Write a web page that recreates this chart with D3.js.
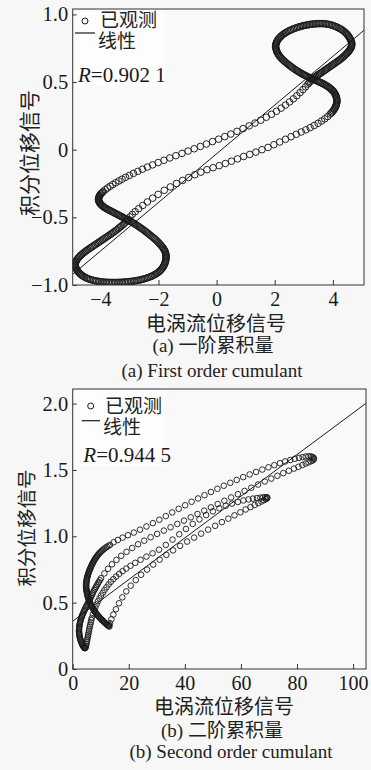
<!DOCTYPE html>
<html>
<head>
<meta charset="utf-8">
<script src="https://cdn.jsdelivr.net/npm/d3@7"></script>
<style>
  html, body { margin: 0; padding: 0; background: #f7f7f7; }
  svg { display: block; }
</style>
</head>
<body>
<svg id="chart" width="371" height="770"></svg>
<script>
// First-order cumulant: integrated displacement vs eddy-current displacement
const firstOrderPts = [
  [-3.05,-0.515],[-2.98,-0.497],[-2.90,-0.478],[-2.80,-0.458],[-2.68,-0.436],[-2.54,-0.412],[-2.38,-0.386],[-2.20,-0.358],[-2.01,-0.33],
  [-1.80,-0.30],[-1.59,-0.275],[-1.38,-0.25],[-1.17,-0.227],[-0.96,-0.205],[-0.75,-0.185],[-0.54,-0.166],[-0.33,-0.148],[-0.12,-0.133],[0.09,-0.118],
  [0.30,-0.102],[0.51,-0.085],[0.72,-0.068],[0.93,-0.05],[1.14,-0.035],[1.35,-0.018],[1.56,0.0],[1.77,0.017],[1.97,0.037],[2.17,0.057],
  [2.37,0.077],[2.56,0.096],[2.74,0.114],[2.91,0.131],[3.07,0.147],[3.22,0.163],[3.36,0.179],[3.49,0.195],[3.61,0.212],[3.72,0.228],
  [3.82,0.245],[3.91,0.264],
  [3.95,0.272],[3.98,0.28],[4.01,0.288],[4.04,0.296],[4.06,0.304],[4.08,0.312],[4.10,0.320],[4.11,0.328],[4.12,0.336],[4.13,0.345],
  [4.14,0.353],[4.14,0.362],[4.14,0.370],[4.13,0.378],[4.12,0.386],[4.11,0.394],[4.10,0.402],[4.08,0.41],[4.06,0.417],[4.04,0.424],
  [4.02,0.431],[3.99,0.437],[3.96,0.443],[3.93,0.449],[3.90,0.455],[3.87,0.46],[3.84,0.465],[3.80,0.47],[3.77,0.475],[3.73,0.479],
  [3.70,0.484],[3.66,0.488],[3.62,0.492],[3.58,0.496],[3.54,0.50],[3.50,0.504],[3.46,0.508],[3.42,0.512],[3.38,0.516],[3.34,0.519],
  [3.30,0.523],[3.26,0.527],[3.22,0.531],[3.18,0.535],[3.14,0.539],[3.10,0.543],[3.06,0.548],[3.02,0.552],[2.98,0.556],[2.94,0.561],
  [2.90,0.566],[2.86,0.571],[2.82,0.576],[2.78,0.582],[2.74,0.587],[2.70,0.593],[2.66,0.599],[2.62,0.605],[2.58,0.611],[2.54,0.618],
  [2.50,0.624],[2.46,0.631],[2.42,0.638],[2.38,0.645],[2.34,0.652],[2.31,0.659],[2.27,0.666],[2.24,0.673],[2.21,0.68],[2.18,0.688],
  [2.15,0.695],[2.13,0.703],[2.11,0.71],[2.09,0.718],[2.07,0.725],[2.06,0.733],[2.05,0.741],[2.04,0.749],[2.03,0.757],[2.03,0.765],
  [2.03,0.772],[2.04,0.78],[2.05,0.787],[2.06,0.795],[2.08,0.802],[2.10,0.81],[2.12,0.817],[2.15,0.824],[2.18,0.831],[2.21,0.838],
  [2.24,0.844],[2.28,0.851],[2.32,0.857],[2.36,0.863],[2.40,0.868],[2.45,0.874],[2.49,0.879],[2.54,0.884],[2.59,0.888],[2.64,0.893],
  [2.69,0.897],[2.74,0.901],[2.79,0.905],[2.84,0.908],[2.89,0.911],[2.94,0.914],[2.99,0.917],[3.04,0.919],[3.09,0.921],[3.14,0.923],
  [3.19,0.925],[3.24,0.927],[3.29,0.928],[3.34,0.929],[3.39,0.93],[3.44,0.931],[3.49,0.932],[3.54,0.932],[3.59,0.932],[3.64,0.932],
  [3.69,0.931],[3.74,0.93],[3.79,0.929],[3.84,0.927],[3.89,0.925],[3.94,0.922],[3.99,0.919],[4.04,0.915],[4.09,0.911],[4.13,0.907],
  [4.18,0.902],[4.22,0.897],[4.27,0.892],[4.31,0.886],[4.35,0.88],[4.39,0.873],[4.43,0.866],[4.46,0.859],[4.49,0.852],[4.52,0.844],
  [4.55,0.836],[4.57,0.828],[4.59,0.82],[4.61,0.812],[4.63,0.804],[4.64,0.796],[4.65,0.788],[4.65,0.78],[4.65,0.772],[4.64,0.764],
  [4.63,0.756],[4.61,0.749],[4.59,0.742],[4.57,0.735],[4.55,0.728],[4.52,0.721],[4.49,0.714],[4.46,0.708],[4.43,0.701],[4.40,0.695],
  [4.37,0.688],[4.33,0.682],[4.30,0.675],[4.26,0.669],[4.22,0.662],[4.18,0.656],[4.14,0.65],[4.10,0.644],[4.06,0.638],[4.02,0.632],
  [3.98,0.626],[3.94,0.62],[3.90,0.614],[3.86,0.608],[3.82,0.602],[3.78,0.596],[3.74,0.59],[3.70,0.584],[3.66,0.578],[3.62,0.572],
  [3.58,0.566],[3.54,0.56],[3.50,0.554],[3.46,0.548],[3.42,0.542],[3.38,0.536],[3.34,0.53],[3.30,0.523],[3.26,0.514],[3.22,0.505],
  [3.18,0.495],[3.14,0.485],
  [3.06,0.465],[2.97,0.444],[2.87,0.422],[2.76,0.399],[2.64,0.376],[2.51,0.353],[2.37,0.330],[2.22,0.307],[2.06,0.284],[1.89,0.262],
  [1.71,0.240],[1.52,0.218],[1.32,0.197],[1.12,0.176],[0.91,0.156],[0.70,0.136],[0.49,0.116],[0.28,0.097],[0.07,0.078],[-0.14,0.06],
  [-0.35,0.042],[-0.56,0.024],[-0.77,0.007],[-0.98,-0.01],[-1.19,-0.027],[-1.40,-0.044],[-1.61,-0.061],[-1.81,-0.078],[-2.01,-0.095],[-2.20,-0.112],
  [-2.38,-0.128],[-2.55,-0.144],[-2.71,-0.16],[-2.86,-0.175],[-3.0,-0.19],[-3.13,-0.204],[-3.25,-0.218],[-3.36,-0.231],[-3.47,-0.244],[-3.57,-0.257],
  [-3.66,-0.27],[-3.75,-0.283],[-3.83,-0.296],[-3.90,-0.309],
  [-3.93,-0.315],[-3.96,-0.322],[-3.99,-0.328],[-4.01,-0.335],[-4.03,-0.341],[-4.04,-0.348],[-4.05,-0.354],[-4.06,-0.361],[-4.06,-0.367],[-4.06,-0.374],
  [-4.05,-0.38],[-4.04,-0.387],[-4.02,-0.393],[-4.0,-0.399],[-3.98,-0.405],[-3.95,-0.411],[-3.92,-0.416],[-3.89,-0.422],[-3.86,-0.427],[-3.82,-0.432],
  [-3.78,-0.437],[-3.74,-0.442],[-3.70,-0.446],[-3.66,-0.451],[-3.62,-0.455],[-3.58,-0.46],[-3.54,-0.464],[-3.50,-0.469],[-3.46,-0.473],[-3.42,-0.478],
  [-3.38,-0.482],[-3.34,-0.487],[-3.30,-0.491],[-3.26,-0.496],[-3.22,-0.50],[-3.18,-0.505],[-3.14,-0.509],[-3.10,-0.514],[-3.06,-0.518],[-3.02,-0.523],
  [-2.98,-0.528],[-2.94,-0.533],[-2.90,-0.538],[-2.86,-0.543],[-2.82,-0.548],[-2.78,-0.554],[-2.74,-0.559],[-2.70,-0.565],[-2.66,-0.571],[-2.62,-0.577],
  [-2.58,-0.583],[-2.54,-0.589],[-2.50,-0.595],[-2.46,-0.602],[-2.42,-0.608],[-2.38,-0.615],[-2.34,-0.622],[-2.30,-0.629],[-2.26,-0.636],[-2.22,-0.643],
  [-2.18,-0.65],[-2.14,-0.658],[-2.10,-0.665],[-2.06,-0.673],[-2.02,-0.681],[-1.99,-0.689],[-1.95,-0.697],[-1.92,-0.705],[-1.89,-0.713],[-1.86,-0.721],
  [-1.83,-0.729],[-1.81,-0.737],[-1.79,-0.745],[-1.77,-0.753],[-1.76,-0.761],[-1.75,-0.769],[-1.74,-0.777],[-1.74,-0.785],[-1.74,-0.793],[-1.74,-0.80],
  [-1.74,-0.808],[-1.75,-0.817],[-1.76,-0.825],[-1.77,-0.834],[-1.78,-0.842],[-1.80,-0.851],[-1.82,-0.859],[-1.84,-0.867],[-1.86,-0.874],[-1.89,-0.882],
  [-1.92,-0.889],[-1.95,-0.896],[-1.98,-0.902],[-2.02,-0.909],[-2.06,-0.914],[-2.10,-0.92],[-2.14,-0.925],[-2.19,-0.93],[-2.23,-0.935],[-2.28,-0.939],
  [-2.33,-0.943],[-2.38,-0.947],[-2.43,-0.951],[-2.48,-0.954],[-2.53,-0.957],[-2.58,-0.96],[-2.63,-0.962],[-2.69,-0.965],[-2.74,-0.967],[-2.80,-0.969],
  [-2.85,-0.971],[-2.91,-0.972],[-2.96,-0.974],[-3.02,-0.975],[-3.07,-0.976],[-3.13,-0.977],[-3.18,-0.978],[-3.24,-0.979],[-3.29,-0.98],[-3.35,-0.98],
  [-3.40,-0.981],[-3.46,-0.981],[-3.51,-0.981],[-3.57,-0.981],[-3.62,-0.981],[-3.68,-0.981],[-3.73,-0.98],[-3.79,-0.98],[-3.84,-0.979],[-3.90,-0.978],
  [-3.95,-0.977],[-4.01,-0.975],[-4.06,-0.973],[-4.12,-0.971],[-4.17,-0.969],[-4.23,-0.966],[-4.28,-0.963],[-4.34,-0.96],[-4.39,-0.956],[-4.44,-0.952],
  [-4.48,-0.948],[-4.53,-0.943],[-4.57,-0.938],[-4.61,-0.932],[-4.65,-0.926],[-4.68,-0.92],[-4.71,-0.914],[-4.74,-0.907],[-4.77,-0.90],[-4.79,-0.893],
  [-4.81,-0.886],[-4.83,-0.878],[-4.85,-0.87],[-4.86,-0.863],[-4.87,-0.855],[-4.87,-0.848],[-4.86,-0.84],[-4.85,-0.832],[-4.83,-0.824],[-4.81,-0.816],
  [-4.79,-0.808],[-4.76,-0.801],[-4.73,-0.793],[-4.70,-0.786],[-4.67,-0.779],[-4.63,-0.772],[-4.59,-0.765],[-4.55,-0.758],[-4.51,-0.751],[-4.47,-0.745],
  [-4.43,-0.738],[-4.38,-0.732],[-4.34,-0.725],[-4.29,-0.719],[-4.25,-0.712],[-4.20,-0.706],[-4.16,-0.699],[-4.11,-0.693],[-4.07,-0.686],[-4.02,-0.68],
  [-3.98,-0.673],[-3.93,-0.667],[-3.89,-0.66],[-3.84,-0.654],[-3.80,-0.647],[-3.75,-0.641],[-3.71,-0.634],[-3.66,-0.628],[-3.62,-0.621],[-3.57,-0.614],
  [-3.53,-0.607],[-3.48,-0.60],[-3.44,-0.593],[-3.39,-0.585],[-3.35,-0.577],[-3.30,-0.569],[-3.26,-0.561],[-3.21,-0.552],[-3.17,-0.543],[-3.12,-0.534],
  [-3.08,-0.524]
];

// Second-order cumulant
const secondOrderPts = [
  [13.1,0.32],[12.85,0.324],[12.6,0.328],[12.35,0.332],[12.1,0.337],[11.85,0.341],[11.6,0.346],[11.35,0.351],[11.1,0.356],[10.85,0.361],
  [10.6,0.366],[10.35,0.371],[10.1,0.377],[9.85,0.382],[9.6,0.388],[9.35,0.394],[9.1,0.4],[8.85,0.406],[8.6,0.412],[8.4,0.418],
  [8.2,0.425],[8.0,0.431],[7.8,0.438],[7.6,0.444],[7.4,0.451],[7.2,0.458],[7.0,0.465],[6.8,0.472],[6.6,0.479],[6.45,0.486],
  [6.3,0.494],[6.15,0.501],[6.0,0.509],[5.85,0.516],[5.7,0.524],[5.57,0.532],[5.45,0.54],[5.35,0.548],[5.25,0.556],[5.17,0.564],
  [5.1,0.572],[5.02,0.58],[4.95,0.588],[4.9,0.596],[4.85,0.604],[4.82,0.612],[4.8,0.62],[4.8,0.628],[4.8,0.636],[4.82,0.644],
  [4.85,0.652],[4.9,0.66],[4.95,0.668],[5.02,0.676],[5.1,0.684],[5.2,0.692],[5.3,0.7],[5.4,0.707],[5.5,0.715],[5.62,0.722],
  [5.75,0.73],[5.87,0.737],[6.0,0.745],[6.15,0.752],[6.3,0.76],[6.45,0.767],[6.6,0.775],[6.77,0.782],[6.95,0.79],[7.12,0.797],
  [7.3,0.805],[7.5,0.812],[7.7,0.82],[7.92,0.827],[8.15,0.835],[8.4,0.842],[8.65,0.85],[8.92,0.857],[9.2,0.865],[9.5,0.872],
  [9.8,0.879],[10.15,0.886],[10.5,0.893],[10.9,0.9],[11.3,0.907],[11.75,0.914],[12.2,0.921],[12.75,0.928],[13.3,0.935],
  [14.6,0.955],[16.1,0.972],[17.8,0.99],[19.7,1.008],[21.8,1.028],[24.0,1.05],[26.3,1.074],[28.6,1.099],[30.9,1.125],[33.2,1.152],
  [35.5,1.18],[37.8,1.207],[40.1,1.234],[42.4,1.26],[44.7,1.285],[47.0,1.31],[49.3,1.334],[51.6,1.358],[53.9,1.381],[56.2,1.403],
  [58.5,1.425],[60.8,1.446],[63.1,1.466],[65.4,1.485],[67.6,1.503],[69.8,1.52],[71.9,1.536],[73.9,1.551],[75.8,1.564],[77.6,1.575],
  [79.2,1.584],[80.7,1.591],[82.0,1.597],[83.1,1.601],[84.1,1.603],[84.9,1.602],[85.5,1.598],[85.9,1.592],[86.0,1.585],[85.9,1.578],
  [85.5,1.571],[84.9,1.565],[84.1,1.557],[83.1,1.548],[81.9,1.537],[80.5,1.524],[78.9,1.51],[77.1,1.494],[75.1,1.476],[73.0,1.456],
  [70.8,1.435],[68.5,1.413],[66.1,1.39],[63.7,1.366],[61.3,1.342],[58.9,1.318],[56.5,1.293],[54.1,1.268],[51.7,1.243],[49.3,1.218],
  [46.9,1.193],[44.5,1.168],[42.1,1.143],[39.7,1.118],[37.3,1.093],[34.9,1.068],[32.5,1.043],[30.1,1.018],[27.8,0.993],[25.5,0.967],
  [23.3,0.94],[21.2,0.912],[19.2,0.883],[17.3,0.853],[15.6,0.822],[14.0,0.789],[12.6,0.755],[11.3,0.72],[10.1,0.684],
  [9.7,0.669],[9.3,0.656],[8.95,0.643],[8.6,0.63],[8.3,0.618],[8.0,0.606],[7.7,0.596],[7.4,0.584],[7.15,0.572],[6.9,0.56],
  [6.65,0.549],[6.4,0.538],[6.15,0.527],[5.9,0.516],[5.65,0.505],[5.4,0.495],[5.15,0.485],[4.9,0.475],[4.67,0.465],[4.45,0.455],
  [4.25,0.445],[4.05,0.436],[3.85,0.426],[3.65,0.417],[3.47,0.408],[3.3,0.399],[3.15,0.39],[3.0,0.381],[2.87,0.372],[2.75,0.363],
  [2.65,0.354],[2.55,0.345],[2.47,0.336],[2.4,0.327],[2.35,0.318],[2.3,0.309],[2.27,0.3],[2.25,0.291],[2.27,0.282],[2.3,0.273],
  [2.35,0.264],[2.4,0.255],[2.47,0.246],[2.55,0.238],[2.65,0.229],[2.75,0.221],[2.87,0.213],[3.0,0.205],[3.15,0.197],[3.3,0.19],
  [3.45,0.183],[3.6,0.177],[3.75,0.171],[3.9,0.166],[4.05,0.162],[4.2,0.158],[4.35,0.157],[4.5,0.158],[4.62,0.165],[4.75,0.175],
  [4.87,0.187],[5.0,0.2],[5.12,0.213],[5.25,0.227],[5.37,0.241],[5.5,0.256],[5.65,0.271],[5.8,0.287],[5.95,0.303],[6.1,0.319],
  [6.27,0.335],[6.45,0.352],[6.62,0.368],[6.8,0.384],
  [7.2,0.412],[7.6,0.438],[8.05,0.463],[8.5,0.487],[9.0,0.51],[9.55,0.532],[10.1,0.553],[10.7,0.574],[11.35,0.595],[12.05,0.616],
  [12.8,0.637],[13.6,0.657],[14.5,0.677],[15.5,0.697],[16.6,0.717],[17.8,0.737],[19.1,0.757],[20.6,0.778],[22.3,0.8],[24.2,0.823],
  [26.3,0.847],[28.5,0.872],[30.8,0.899],[33.2,0.935],[35.6,0.975],[38.0,1.015],[40.4,1.055],[42.8,1.093],[45.2,1.128],[47.6,1.16],
  [50.0,1.188],[52.3,1.211],[54.6,1.23],[56.8,1.246],[58.9,1.259],[60.9,1.27],[62.7,1.278],[64.3,1.284],[65.7,1.288],[66.9,1.291],
  [67.9,1.293],[68.7,1.294],[69.2,1.294],[69.4,1.292],[69.3,1.286],[68.9,1.28],[68.2,1.272],[67.3,1.262],[66.2,1.25],[64.9,1.236],
  [63.4,1.22],[61.7,1.202],[59.8,1.181],[57.7,1.158],[55.5,1.133],[53.2,1.107],[50.8,1.079],[48.3,1.05],[45.8,1.02],[43.3,0.99],
  [40.8,0.96],[38.3,0.928],[35.8,0.894],[33.4,0.86],[31.0,0.824],[28.7,0.787],[26.5,0.749],[24.4,0.71],[22.5,0.67],[20.7,0.628],
  [19.1,0.585],[17.7,0.54],[16.5,0.495],[15.4,0.45],[14.5,0.41],[13.8,0.375],[13.3,0.345],[13.0,0.33]
];

// Linear fits: [slope, intercept]
const firstFit = [0.18, -0.03];
const secondFit = [0.0157, 0.36];

const firstXTicks = [-4, -2, 0, 2, 4];
const firstYTicks = [-1, -0.5, 0, 0.5, 1];
const secondXTicks = [0, 20, 40, 60, 80, 100];
const secondYTicks = [0, 0.5, 1, 1.5, 2];

const legendLabels = ["已观测", "线性"];
const rValues = ["0.902 1", "0.944 5"];
const xTitle = "电涡流位移信号";
const yTitle = "积分位移信号";
const captionsCN = ["(a) 一阶累积量", "(b) 二阶累积量"];
const captionsEN = ["(a) First order cumulant", "(b) Second order cumulant"];

const SERIF = "'Liberation Serif', 'Times New Roman', serif";
const CJK = "'Noto Sans CJK SC', sans-serif";
const MIXED = SERIF + ", " + CJK;
const INK = "#1a1a1a";

const svg = d3.select("#chart");
svg.append("rect").attr("width", 371).attr("height", 770).attr("fill", "#f7f7f7");

const fmt1 = d => d === 0 ? "0" : d3.format(".1f")(d);

const panels = [
  {
    id: "a", pts: firstOrderPts, fit: firstFit,
    left: 72.7, right: 364, top: 9, bottom: 285,
    xDomain: [-4.95, 5.07], yDomain: [-1, 1.04],
    xTicks: firstXTicks, yTicks: firstYTicks,
    xFmt: d => d3.format("d")(d), yFmt: fmt1,
    r: 3.3, sw: 0.95,
    legend: { cx: 85, cy: 21, t1x: 100, t1y: 27, lx0: 75, lx1: 95, ly: 33, t2x: 98, t2y: 48 },
    rText: { x: 78, y: 81.5 },
    yTitle: { x: 30, y: 153, size: 21 },
    xTitleY: 331, xTitleX: 216,
    capCN: { x: 213, y: 351.5 }, capEN: { x: 212, y: 376.5 },
    idx: 0
  },
  {
    id: "b", pts: secondOrderPts, fit: secondFit,
    left: 72.7, right: 366, top: 389, bottom: 669,
    xDomain: [0, 104.6], yDomain: [0, 2.11],
    xTicks: secondXTicks, yTicks: secondYTicks,
    xFmt: d => d3.format("d")(d), yFmt: fmt1,
    r: 2.8, sw: 0.9,
    legend: { cx: 90.7, cy: 406, t1x: 105, t1y: 412.5, lx0: 81.7, lx1: 100, ly: 420.7, t2x: 103, t2y: 433.5 },
    rText: { x: 83.3, y: 461.5 },
    yTitle: { x: 27, y: 528, size: 19.5 },
    xTitleY: 713.5, xTitleX: 224,
    capCN: { x: 222, y: 736.5 }, capEN: { x: 231, y: 757.5 },
    idx: 1
  }
];

panels.forEach(p => {
  const x = d3.scaleLinear().domain(p.xDomain).range([p.left, p.right]);
  const y = d3.scaleLinear().domain(p.yDomain).range([p.bottom, p.top]);
  const g = svg.append("g");

  const clipId = "clip-" + p.id;
  svg.append("clipPath").attr("id", clipId)
    .append("rect")
    .attr("x", p.left).attr("y", p.top)
    .attr("width", p.right - p.left).attr("height", p.bottom - p.top);

  // plot area
  g.append("rect")
    .attr("x", p.left).attr("y", p.top)
    .attr("width", p.right - p.left).attr("height", p.bottom - p.top)
    .attr("fill", "#f9f9f9");

  // soft white patch behind legend and R label
  g.append("rect")
    .attr("x", p.left + 2).attr("y", p.top + 2)
    .attr("width", 90).attr("height", p.rText.y - p.top + 3)
    .attr("fill", "#fdfdfd");

  const plot = g.append("g").attr("clip-path", `url(#${clipId})`);

  // observed points
  plot.selectAll("circle.obs")
    .data(p.pts)
    .join("circle")
    .attr("class", "obs")
    .attr("cx", d => x(d[0]))
    .attr("cy", d => y(d[1]))
    .attr("r", p.r)
    .attr("fill", "none")
    .attr("stroke", INK)
    .attr("stroke-width", p.sw);

  // linear fit across the x domain
  const [m, b] = p.fit;
  const fitLine = d3.line().x(d => x(d)).y(d => y(m * d + b));
  plot.append("path")
    .attr("d", fitLine(p.xDomain))
    .attr("fill", "none")
    .attr("stroke", INK)
    .attr("stroke-width", 1);

  // frame
  g.append("rect")
    .attr("x", p.left).attr("y", p.top)
    .attr("width", p.right - p.left).attr("height", p.bottom - p.top)
    .attr("fill", "none")
    .attr("stroke", "#333")
    .attr("stroke-width", 1);

  // axes with inward ticks
  const xAxis = d3.axisBottom(x).tickValues(p.xTicks).tickFormat(p.xFmt)
    .tickSize(-5).tickPadding(7);
  const gx = g.append("g").attr("transform", `translate(0,${p.bottom})`).call(xAxis);
  gx.select(".domain").remove();
  gx.selectAll("line").attr("stroke", "#333");
  gx.selectAll("text").attr("font-family", SERIF).attr("font-size", 20).attr("fill", INK);

  const yAxis = d3.axisLeft(y).tickValues(p.yTicks).tickFormat(p.yFmt)
    .tickSize(-4).tickPadding(4.5);
  const gy = g.append("g").attr("transform", `translate(${p.left},0)`).call(yAxis);
  gy.select(".domain").remove();
  gy.selectAll("line").attr("stroke", "#333");
  gy.selectAll("text").attr("font-family", SERIF).attr("font-size", 20.5).attr("fill", INK);

  // legend: marker symbols, then both labels in one text block
  const L = p.legend;
  g.append("circle").attr("cx", L.cx).attr("cy", L.cy).attr("r", 3)
    .attr("fill", "none").attr("stroke", INK).attr("stroke-width", 1);
  g.append("line").attr("x1", L.lx0).attr("x2", L.lx1).attr("y1", L.ly).attr("y2", L.ly)
    .attr("stroke", INK).attr("stroke-width", 1.2);
  const lt = g.append("text")
    .attr("font-family", MIXED).attr("font-size", 19).attr("fill", "#222");
  lt.append("tspan").attr("x", L.t1x).attr("y", L.t1y).text(legendLabels[0]);
  lt.append("tspan").attr("x", L.t2x).attr("y", L.t2y).text(legendLabels[1]);

  // correlation coefficient
  const rt = g.append("text").attr("x", p.rText.x).attr("y", p.rText.y)
    .attr("font-family", SERIF).attr("font-size", 21).attr("fill", INK);
  rt.append("tspan").attr("font-style", "italic").text("R");
  rt.append("tspan").text("=" + rValues[p.idx]);

  // axis titles
  g.append("text")
    .attr("transform", `translate(${p.yTitle.x},${p.yTitle.y}) rotate(-90)`)
    .attr("text-anchor", "middle").attr("dominant-baseline", "central")
    .attr("font-family", MIXED).attr("font-size", p.yTitle.size).attr("fill", "#222")
    .text(yTitle);
  g.append("text")
    .attr("x", p.xTitleX).attr("y", p.xTitleY).attr("text-anchor", "middle")
    .attr("font-family", MIXED).attr("font-size", 20).attr("fill", "#222")
    .text(xTitle);

  // captions
  g.append("text")
    .attr("x", p.capCN.x).attr("y", p.capCN.y).attr("text-anchor", "middle")
    .attr("font-family", MIXED).attr("font-size", 19).attr("fill", "#222")
    .text(captionsCN[p.idx]);
  g.append("text")
    .attr("x", p.capEN.x).attr("y", p.capEN.y).attr("text-anchor", "middle")
    .attr("font-family", SERIF).attr("font-size", 19).attr("fill", "#222")
    .text(captionsEN[p.idx]);
});
</script>
</body>
</html>
